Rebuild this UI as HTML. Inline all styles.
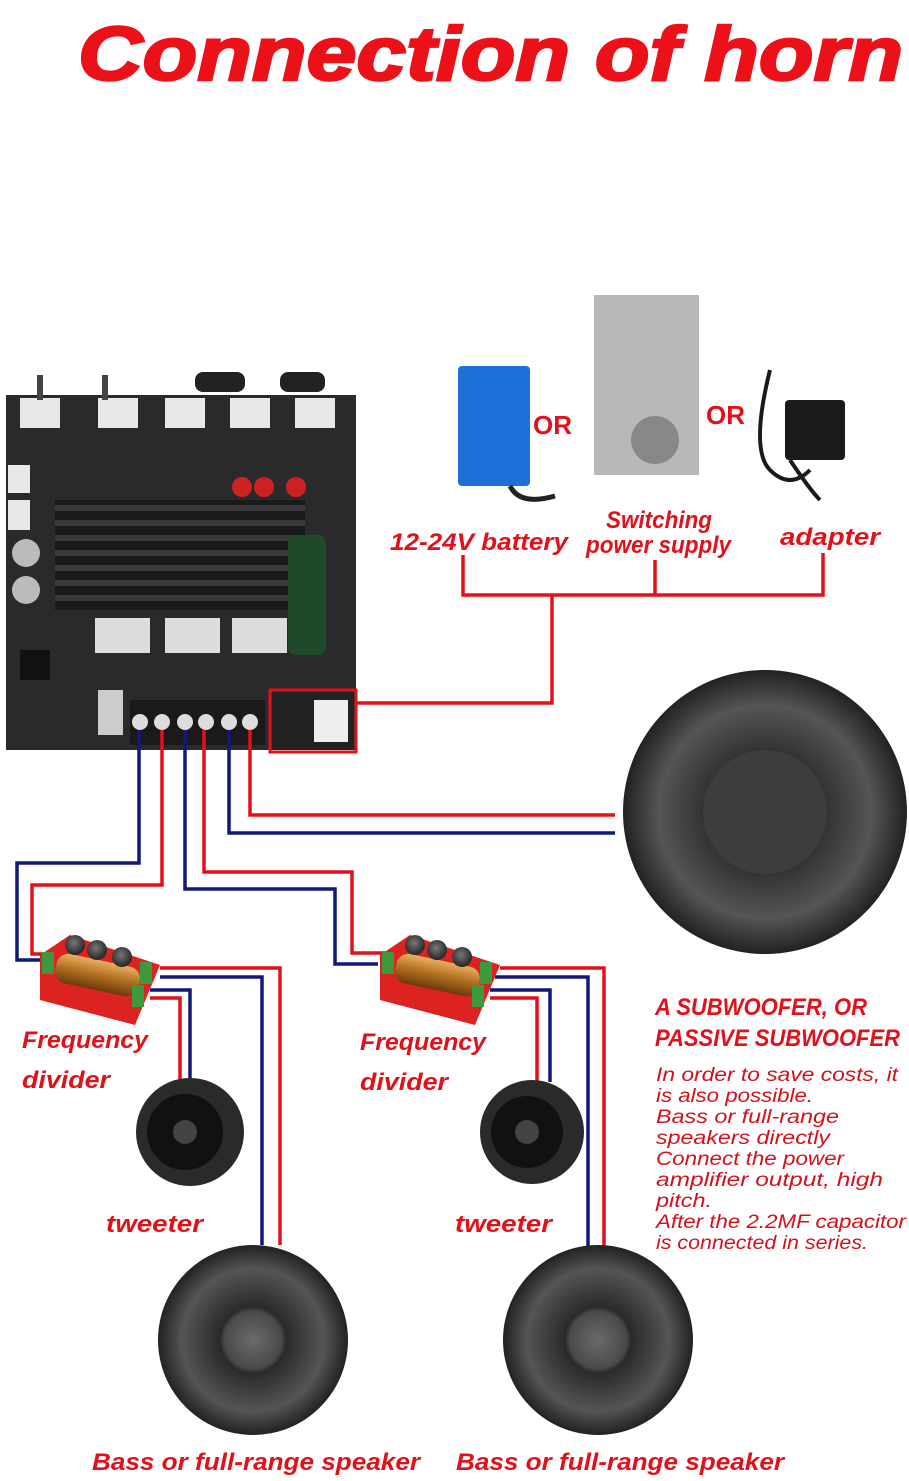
<!DOCTYPE html>
<html><head><meta charset="utf-8"><style>
html,body{margin:0;padding:0;background:#fff}
svg{display:block}
text{font-family:"Liberation Sans",sans-serif}
.lbl{fill:#e3101a;font-weight:bold;font-style:italic;font-size:24px}
.note{fill:#d5101a;font-style:italic;font-size:19px}
</style></head><body>
<svg width="909" height="1481" viewBox="0 0 909 1481" xmlns="http://www.w3.org/2000/svg">
<defs>
<radialGradient id="spk" cx="50%" cy="50%" r="50%">
<stop offset="0" stop-color="#6a6a6a"/><stop offset="0.3" stop-color="#4a4a4a"/><stop offset="0.35" stop-color="#2a2a2a"/><stop offset="0.75" stop-color="#555"/><stop offset="0.88" stop-color="#3a3a3a"/><stop offset="1" stop-color="#222"/>
</radialGradient>
<radialGradient id="cap" cx="45%" cy="40%" r="55%"><stop offset="0" stop-color="#777"/><stop offset="1" stop-color="#2b2b2b"/></radialGradient>
<linearGradient id="coil" x1="0" y1="0" x2="0" y2="1"><stop offset="0" stop-color="#e8b060"/><stop offset="0.5" stop-color="#b06f20"/><stop offset="1" stop-color="#6b3a0c"/></linearGradient>
</defs>
<rect width="909" height="1481" fill="#fff"/>
<text x="78" y="80" font-size="76" font-weight="900" font-style="italic" fill="#ec1018" stroke="#ec1018" stroke-width="2.5" textLength="825" lengthAdjust="spacingAndGlyphs">Connection of horn</text>

<!-- board -->
<rect x="6" y="395" width="350" height="355" fill="#2a2a2c"/>
<rect x="55" y="500" width="250" height="110" fill="#1a1a1a"/>
<g fill="#3a3a3a"><rect x="55" y="505" width="250" height="6"/><rect x="55" y="520" width="250" height="6"/><rect x="55" y="535" width="250" height="6"/><rect x="55" y="550" width="250" height="6"/><rect x="55" y="565" width="250" height="6"/><rect x="55" y="580" width="250" height="6"/><rect x="55" y="595" width="250" height="6"/></g>
<rect x="288" y="535" width="38" height="120" rx="8" fill="#1f4a2a"/>
<g fill="#ddd"><rect x="95" y="618" width="55" height="35"/><rect x="165" y="618" width="55" height="35"/><rect x="232" y="618" width="55" height="35"/></g>
<g fill="#e8e8e8"><rect x="20" y="398" width="40" height="30"/><rect x="98" y="398" width="40" height="30"/><rect x="165" y="398" width="40" height="30"/><rect x="230" y="398" width="40" height="30"/><rect x="295" y="398" width="40" height="30"/><rect x="8" y="465" width="22" height="28"/><rect x="8" y="500" width="22" height="30"/></g>
<g fill="#555"><path d="M40 375 l0 25 M105 375 l0 25" stroke="#444" stroke-width="6"/><rect x="195" y="372" width="50" height="20" rx="8" fill="#222"/><rect x="280" y="372" width="45" height="20" rx="8" fill="#222"/></g>
<circle cx="26" cy="553" r="14" fill="#bbb"/><circle cx="26" cy="590" r="14" fill="#bbb"/>
<circle cx="242" cy="487" r="10" fill="#c22"/><circle cx="264" cy="487" r="10" fill="#c22"/><circle cx="296" cy="487" r="10" fill="#c22"/>
<rect x="20" y="650" width="30" height="30" fill="#111"/>
<rect x="98" y="690" width="25" height="45" fill="#ccc"/>
<rect x="130" y="700" width="135" height="45" fill="#1a1a1a"/>
<g fill="#ddd"><circle cx="140" cy="722" r="8"/><circle cx="162" cy="722" r="8"/><circle cx="185" cy="722" r="8"/><circle cx="206" cy="722" r="8"/><circle cx="229" cy="722" r="8"/><circle cx="250" cy="722" r="8"/></g>
<rect x="272" y="692" width="82" height="58" fill="#222"/>
<rect x="314" y="700" width="34" height="42" fill="#eee"/>
<rect x="270" y="690" width="86" height="62" fill="none" stroke="#e3101a" stroke-width="3"/>

<!-- power devices -->
<rect x="458" y="366" width="72" height="120" rx="4" fill="#1f6fd8"/>
<path d="M510 486 q10 20 45 10" stroke="#222" stroke-width="5" fill="none"/>
<text x="533" y="434" font-size="26" font-weight="bold" fill="#e3101a">OR</text>
<rect x="594" y="295" width="105" height="180" fill="#b8b8b8"/>
<circle cx="655" cy="440" r="24" fill="#888"/>
<text x="706" y="424" font-size="26" font-weight="bold" fill="#e3101a">OR</text>
<rect x="785" y="400" width="60" height="60" rx="4" fill="#1a1a1a"/>
<path d="M770 370 q-20 80 0 100 q20 20 40 0 M790 460 q20 30 30 40" stroke="#1a1a1a" stroke-width="4" fill="none"/>

<text x="390" y="550" class="lbl" font-size="23" textLength="178" lengthAdjust="spacingAndGlyphs">12-24V battery</text>
<text x="606" y="528" class="lbl" font-size="20" textLength="106" lengthAdjust="spacingAndGlyphs">Switching</text>
<text x="586" y="553" class="lbl" font-size="20" textLength="145" lengthAdjust="spacingAndGlyphs">power supply</text>
<text x="780" y="545" class="lbl" textLength="100" lengthAdjust="spacingAndGlyphs">adapter</text>

<g fill="none" stroke-width="3.5">
<path stroke="#e3101a" d="M463 555 V595 H823 V553 M655 560 V595 M552 595 V703 H356"/>
<path stroke="#e3101a" d="M250 730 V815 H615"/>
<path stroke="#11187a" d="M229 730 V833 H615"/>
<path stroke="#11187a" d="M139 730 V863 H17 V960 H45"/>
<path stroke="#e3101a" d="M162 730 V885 H32 V954 H48"/>
<path stroke="#11187a" d="M185 730 V889 H335 V964 H378"/>
<path stroke="#e3101a" d="M204 730 V872 H352 V953 H392"/>
<path stroke="#e3101a" d="M160 968 H280 V1245"/>
<path stroke="#11187a" d="M160 977 H262 V1245"/>
<path stroke="#11187a" d="M150 990 H190 V1082"/>
<path stroke="#e3101a" d="M150 998 H180 V1082"/>
<path stroke="#e3101a" d="M500 968 H604 V1250"/>
<path stroke="#11187a" d="M495 977 H588 V1250"/>
<path stroke="#11187a" d="M490 990 H550 V1082"/>
<path stroke="#e3101a" d="M490 998 H537 V1082"/>
</g>

<g id="div">
<path d="M40 955 L70 935 L160 965 L135 1025 L40 1000 Z" fill="#d22"/>
<rect x="55" y="960" width="85" height="30" rx="12" fill="url(#coil)" transform="rotate(12 97 975)"/>
<circle cx="75" cy="945" r="10" fill="url(#cap)"/><circle cx="97" cy="950" r="10" fill="url(#cap)"/><circle cx="122" cy="957" r="10" fill="url(#cap)"/>
<rect x="42" y="952" width="12" height="22" fill="#3c9a3c"/><rect x="140" y="962" width="12" height="22" fill="#3c9a3c"/><rect x="132" y="985" width="12" height="22" fill="#3c9a3c"/>
</g>
<use href="#div" x="340" y="0"/>

<text x="22" y="1048" class="lbl" textLength="126" lengthAdjust="spacingAndGlyphs">Frequency</text>
<text x="22" y="1088" class="lbl" textLength="88" lengthAdjust="spacingAndGlyphs">divider</text>
<text x="360" y="1050" class="lbl" textLength="126" lengthAdjust="spacingAndGlyphs">Frequency</text>
<text x="360" y="1090" class="lbl" textLength="88" lengthAdjust="spacingAndGlyphs">divider</text>

<circle cx="190" cy="1132" r="54" fill="#2a2a2a"/><circle cx="185" cy="1132" r="38" fill="#111"/><circle cx="185" cy="1132" r="12" fill="#444"/>
<circle cx="532" cy="1132" r="52" fill="#2a2a2a"/><circle cx="527" cy="1132" r="36" fill="#111"/><circle cx="527" cy="1132" r="12" fill="#444"/>
<text x="106" y="1232" class="lbl" textLength="97" lengthAdjust="spacingAndGlyphs">tweeter</text>
<text x="455" y="1232" class="lbl" textLength="97" lengthAdjust="spacingAndGlyphs">tweeter</text>

<circle cx="253" cy="1340" r="95" fill="url(#spk)"/>
<circle cx="598" cy="1340" r="95" fill="url(#spk)"/>
<circle cx="765" cy="812" r="142" fill="url(#spk)"/>
<circle cx="765" cy="812" r="62" fill="#3d3d3d"/>

<text x="92" y="1470" class="lbl" font-size="23" textLength="328" lengthAdjust="spacingAndGlyphs">Bass or full-range speaker</text>
<text x="456" y="1470" class="lbl" font-size="23" textLength="328" lengthAdjust="spacingAndGlyphs">Bass or full-range speaker</text>

<text x="655" y="1015" class="lbl" font-size="22" font-style="normal" font-weight="900" textLength="212" lengthAdjust="spacingAndGlyphs">A SUBWOOFER, OR</text>
<text x="655" y="1046" class="lbl" font-size="22" font-style="normal" font-weight="900" textLength="245" lengthAdjust="spacingAndGlyphs">PASSIVE SUBWOOFER</text>
<g class="note">
<text x="656" y="1081" textLength="242" lengthAdjust="spacingAndGlyphs">In order to save costs, it</text>
<text x="656" y="1102" textLength="157" lengthAdjust="spacingAndGlyphs">is also possible.</text>
<text x="656" y="1123" textLength="183" lengthAdjust="spacingAndGlyphs">Bass or full-range</text>
<text x="656" y="1144" textLength="174" lengthAdjust="spacingAndGlyphs">speakers directly</text>
<text x="656" y="1165" textLength="188" lengthAdjust="spacingAndGlyphs">Connect the power</text>
<text x="656" y="1186" textLength="227" lengthAdjust="spacingAndGlyphs">amplifier output, high</text>
<text x="656" y="1207" textLength="56" lengthAdjust="spacingAndGlyphs">pitch.</text>
<text x="656" y="1228" textLength="250" lengthAdjust="spacingAndGlyphs">After the 2.2MF capacitor</text>
<text x="656" y="1249" textLength="212" lengthAdjust="spacingAndGlyphs">is connected in series.</text>
</g>
</svg>
</body></html>
